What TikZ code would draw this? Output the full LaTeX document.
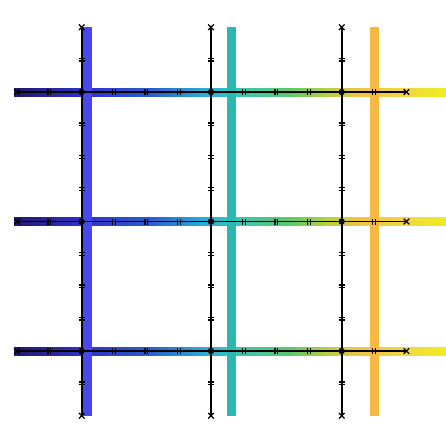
\documentclass[tikz,border=0pt]{standalone}
\usetikzlibrary{calc}
\definecolor{c0}{HTML}{22186A}
\definecolor{c1}{HTML}{3030C8}
\definecolor{c2}{HTML}{2A5CCC}
\definecolor{c3}{HTML}{28A8D8}
\definecolor{c4}{HTML}{34C4C0}
\definecolor{c5}{HTML}{5CC86A}
\definecolor{c6}{HTML}{B4D040}
\definecolor{c7}{HTML}{F0C448}
\definecolor{c8}{HTML}{F2D840}
\definecolor{c9}{HTML}{EEEE20}
\definecolor{vblue}{HTML}{4848EE}
\definecolor{vteal}{HTML}{2CB8B0}
\definecolor{vorange}{HTML}{F5B840}
\pgfdeclarehorizontalshading{bandgrad}{100bp}{color(0bp)=(c0); color(25bp)=(c0); color(32.87bp)=(c1); color(40.74bp)=(c2); color(46.53bp)=(c3); color(50.12bp)=(c4); color(56.94bp)=(c5); color(61bp)=(c6); color(65.05bp)=(c7); color(70.6bp)=(c8); color(75bp)=(c9); color(100bp)=(c9)}
\begin{document}
\begin{tikzpicture}[x=1pt,y=-1pt,
  blk/.style={line width=1.8pt,black},
  tk/.style={line width=1.2pt,black},
  hband/.style={shading=bandgrad},
  vband/.style={draw=none}]
\useasboundingbox (0,0) rectangle (446,426);
% horizontal gradient bands
\foreach \y in {92,221.5,351} {
  \shade[hband] (14,\y-4) rectangle (446,\y+4);
}
% vertical coloured bands
\fill[vband,vblue] (83,27) rectangle (92,415.5);
\fill[vband,vteal] (227,27) rectangle (236,415.5);
\fill[vband,vorange] (370,27) rectangle (378.5,415.5);
% black vertical lines
\foreach \i/\x in {1/81.7,2/211,3/341.7} {
  \coordinate (vt\i) at (\x,27.25);
  \coordinate (vb\i) at (\x,415.75);
  \draw[blk] (vt\i) -- (vb\i);
  \foreach \y in {59.6,124.4,156.8,189.1,253.9,286.3,318.6,383.4} {
    \draw[tk] (\x-3,\y-1.4) -- (\x+3,\y-1.4) (\x-3,\y+1.4) -- (\x+3,\y+1.4);
  }
  \draw[tk] ($(vt\i)+(-2.8,-2.8)$) -- ($(vt\i)+(2.8,2.8)$) ($(vt\i)+(-2.8,2.8)$) -- ($(vt\i)+(2.8,-2.8)$);
  \draw[tk] ($(vb\i)+(-2.8,-2.8)$) -- ($(vb\i)+(2.8,2.8)$) ($(vb\i)+(-2.8,2.8)$) -- ($(vb\i)+(2.8,-2.8)$);
}
% black horizontal lines
\foreach \j/\y in {1/92,2/221.5,3/351} {
  \coordinate (hl\j) at (16.9,\y);
  \coordinate (hr\j) at (406.4,\y);
  \draw[blk] (hl\j) -- (hr\j);
  \foreach \x in {49.3,114.0,146.4,178.7,243.7,276.4,309.0,374.1} {
    \draw[tk] (\x-1.4,\y-3) -- (\x-1.4,\y+3) (\x+1.4,\y-3) -- (\x+1.4,\y+3);
  }
  \draw[tk] ($(hl\j)+(-2.8,-2.8)$) -- ($(hl\j)+(2.8,2.8)$) ($(hl\j)+(-2.8,2.8)$) -- ($(hl\j)+(2.8,-2.8)$);
  \draw[tk] ($(hr\j)+(-2.8,-2.8)$) -- ($(hr\j)+(2.8,2.8)$) ($(hr\j)+(-2.8,2.8)$) -- ($(hr\j)+(2.8,-2.8)$);
  \foreach \x in {81.7,211,341.7} {
    \fill[black] (\x,\y) circle[radius=3.2];
  }
}
\end{tikzpicture}
\end{document}
